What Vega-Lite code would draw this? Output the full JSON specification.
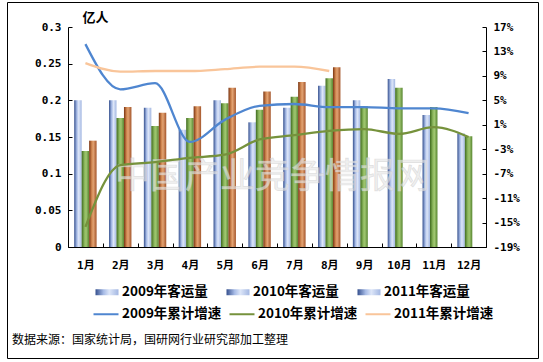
{
  "$schema": "https://vega.github.io/schema/vega-lite/v6.json",
  "width": 531,
  "height": 356,
  "autosize": {"type": "none"},
  "padding": {"left": 7, "top": 2, "right": 5, "bottom": 4},
  "background": "white",
  "config": {
    "view": {"stroke": "#000000", "strokeWidth": 1},
    "font": "Noto Sans CJK SC"
  },
  "title": {
    "text": "数据来源：国家统计局，国研网行业研究部加工整理",
    "orient": "bottom",
    "anchor": "start",
    "frame": "group",
    "offset": -23,
    "dx": 5,
    "fontSize": 12,
    "fontWeight": "normal",
    "font": "Noto Sans CJK SC",
    "color": "#000000"
  },
  "datasets": {
    "bars": [
      {"month": "1月", "year": "2009", "name": "2009年客运量", "volume": 0.200},
      {"month": "1月", "year": "2010", "name": "2010年客运量", "volume": 0.131},
      {"month": "1月", "year": "2011", "name": "2011年客运量", "volume": 0.145},
      {"month": "2月", "year": "2009", "name": "2009年客运量", "volume": 0.200},
      {"month": "2月", "year": "2010", "name": "2010年客运量", "volume": 0.176},
      {"month": "2月", "year": "2011", "name": "2011年客运量", "volume": 0.191},
      {"month": "3月", "year": "2009", "name": "2009年客运量", "volume": 0.190},
      {"month": "3月", "year": "2010", "name": "2010年客运量", "volume": 0.165},
      {"month": "3月", "year": "2011", "name": "2011年客运量", "volume": 0.183},
      {"month": "4月", "year": "2009", "name": "2009年客运量", "volume": 0.160},
      {"month": "4月", "year": "2010", "name": "2010年客运量", "volume": 0.176},
      {"month": "4月", "year": "2011", "name": "2011年客运量", "volume": 0.192},
      {"month": "5月", "year": "2009", "name": "2009年客运量", "volume": 0.200},
      {"month": "5月", "year": "2010", "name": "2010年客运量", "volume": 0.196},
      {"month": "5月", "year": "2011", "name": "2011年客运量", "volume": 0.217},
      {"month": "6月", "year": "2009", "name": "2009年客运量", "volume": 0.170},
      {"month": "6月", "year": "2010", "name": "2010年客运量", "volume": 0.187},
      {"month": "6月", "year": "2011", "name": "2011年客运量", "volume": 0.212},
      {"month": "7月", "year": "2009", "name": "2009年客运量", "volume": 0.190},
      {"month": "7月", "year": "2010", "name": "2010年客运量", "volume": 0.205},
      {"month": "7月", "year": "2011", "name": "2011年客运量", "volume": 0.225},
      {"month": "8月", "year": "2009", "name": "2009年客运量", "volume": 0.220},
      {"month": "8月", "year": "2010", "name": "2010年客运量", "volume": 0.230},
      {"month": "8月", "year": "2011", "name": "2011年客运量", "volume": 0.245},
      {"month": "9月", "year": "2009", "name": "2009年客运量", "volume": 0.200},
      {"month": "9月", "year": "2010", "name": "2010年客运量", "volume": 0.192},
      {"month": "10月", "year": "2009", "name": "2009年客运量", "volume": 0.229},
      {"month": "10月", "year": "2010", "name": "2010年客运量", "volume": 0.217},
      {"month": "11月", "year": "2009", "name": "2009年客运量", "volume": 0.180},
      {"month": "11月", "year": "2010", "name": "2010年客运量", "volume": 0.191},
      {"month": "12月", "year": "2009", "name": "2009年客运量", "volume": 0.155},
      {"month": "12月", "year": "2010", "name": "2010年客运量", "volume": 0.151}
    ],
    "lines": [
      {"month": "1月", "series": "2009年累计增速", "rate": 14.2},
      {"month": "2月", "series": "2009年累计增速", "rate": 6.8},
      {"month": "3月", "series": "2009年累计增速", "rate": 7.8},
      {"month": "4月", "series": "2009年累计增速", "rate": -1.8},
      {"month": "5月", "series": "2009年累计增速", "rate": 1.8},
      {"month": "6月", "series": "2009年累计增速", "rate": 4.1},
      {"month": "7月", "series": "2009年累计增速", "rate": 4.4},
      {"month": "8月", "series": "2009年累计增速", "rate": 3.9},
      {"month": "9月", "series": "2009年累计增速", "rate": 3.9},
      {"month": "10月", "series": "2009年累计增速", "rate": 3.7},
      {"month": "11月", "series": "2009年累计增速", "rate": 3.7},
      {"month": "12月", "series": "2009年累计增速", "rate": 2.9},
      {"month": "1月", "series": "2010年累计增速", "rate": -15.7},
      {"month": "2月", "series": "2010年累计增速", "rate": -5.6},
      {"month": "3月", "series": "2010年累计增速", "rate": -5.1},
      {"month": "4月", "series": "2010年累计增速", "rate": -4.4},
      {"month": "5月", "series": "2010年累计增速", "rate": -3.9},
      {"month": "6月", "series": "2010年累计增速", "rate": -1.4},
      {"month": "7月", "series": "2010年累计增速", "rate": -0.7},
      {"month": "8月", "series": "2010年累计增速", "rate": 0.0},
      {"month": "9月", "series": "2010年累计增速", "rate": 0.3},
      {"month": "10月", "series": "2010年累计增速", "rate": -0.5},
      {"month": "11月", "series": "2010年累计增速", "rate": 0.6},
      {"month": "12月", "series": "2010年累计增速", "rate": -1.0},
      {"month": "1月", "series": "2011年累计增速", "rate": 11.1},
      {"month": "2月", "series": "2011年累计增速", "rate": 9.7},
      {"month": "3月", "series": "2011年累计增速", "rate": 9.8},
      {"month": "4月", "series": "2011年累计增速", "rate": 9.8},
      {"month": "5月", "series": "2011年累计增速", "rate": 10.1},
      {"month": "6月", "series": "2011年累计增速", "rate": 10.5},
      {"month": "7月", "series": "2011年累计增速", "rate": 10.5},
      {"month": "8月", "series": "2011年累计增速", "rate": 9.8}
    ],
    "watermark": [
      {"label": "中国产业竞争情报网", "level": 0.0955}
    ]
  },
  "layer": [
    {
      "data": {"name": "bars"},
      "transform": [{"filter": "datum.year === '2009'"}],
      "mark": {
        "type": "bar",
        "fill": {
          "gradient": "linear", "x1": 0, "x2": 1, "y1": 0, "y2": 0,
          "stops": [
            {"offset": 0, "color": "#35508E"},
            {"offset": 0.35, "color": "#A7BBE6"},
            {"offset": 0.6, "color": "#DDE6F8"},
            {"offset": 1, "color": "#A3B7E2"}
          ]
        }
      },
      "encoding": {
        "x": {
          "field": "month", "type": "nominal",
          "sort": ["1月","2月","3月","4月","5月","6月","7月","8月","9月","10月","11月","12月"],
          "scale": {"range": [61, 479], "paddingInner": 0, "paddingOuter": 0},
          "axis": {
            "orient": "bottom", "offset": -111, "title": null, "labelAngle": 0,
            "tickBand": "extent", "tickSize": -4, "tickColor": "#000000",
            "domainColor": "#000000", "labelPadding": 16,
            "labelFont": "DejaVu Sans Mono, Noto Sans CJK SC", "labelFontSize": 11,
            "labelFontWeight": "bold", "labelColor": "#000000"
          }
        },
        "xOffset": {
          "field": "year", "type": "nominal",
          "scale": {"domain": ["2009", "2010", "2011"], "range": [6.2, 28.6], "paddingInner": 0, "paddingOuter": 0}
        },
        "y": {
          "field": "volume", "type": "quantitative",
          "scale": {"domain": [0, 0.3], "range": [245, 25], "zero": true, "nice": false},
          "axis": {
            "orient": "left", "offset": -61, "grid": false,
            "values": [0, 0.05, 0.1, 0.15, 0.2, 0.25, 0.3], "format": "~g",
            "tickSize": -4, "tickColor": "#000000", "domainColor": "#000000",
            "labelPadding": 11, "labelFont": "DejaVu Sans Mono", "labelFontSize": 11,
            "labelFontWeight": "bold", "labelColor": "#000000",
            "title": "亿人", "titleAngle": 0, "titleX": 27, "titleY": 15,
            "titleAlign": "center", "titleBaseline": "middle",
            "titleFont": "Noto Sans CJK SC", "titleFontSize": 13, "titleFontWeight": "bold",
            "titleColor": "#000000"
          }
        },
        "strokeDash": {
          "field": "name", "type": "nominal",
          "scale": {"domain": ["2009年客运量", "2010年客运量", "2011年客运量"], "range": [[1, 0], [1, 0], [1, 0]]},
          "legend": {
            "orient": "none", "legendX": 90, "legendY": 280,
            "direction": "horizontal", "title": null, "padding": 0,
            "symbolType": "M-1.15,-0.3H1.15V0.3H-1.15Z",
            "symbolSize": 400, "labelOffset": 5, "columnPadding": 18,
            "symbolStrokeWidth": 0, "symbolStrokeColor": "transparent",
            "labelFont": "Noto Sans CJK SC", "labelFontSize": 13.5, "labelFontWeight": "bold",
            "labelColor": "#000000", "labelLimit": 200,
            "encode": {
              "symbols": {
                "fill": {
                  "condition": [
                    {"test": "datum.value === '2009年客运量'", "value": {"gradient": "linear", "x1": 0, "x2": 1, "y1": 0, "y2": 0, "stops": [{"offset": 0, "color": "#3B5795"}, {"offset": 0.6, "color": "#C5D4F2"}, {"offset": 1, "color": "#DDE6F8"}]}},
                    {"test": "datum.value === '2010年客运量'", "value": {"gradient": "linear", "x1": 0, "x2": 1, "y1": 0, "y2": 0, "stops": [{"offset": 0, "color": "#3E6A1E"}, {"offset": 0.6, "color": "#8FBA5F"}, {"offset": 1, "color": "#56852E"}]}}
                  ],
                  "value": {"gradient": "linear", "x1": 0, "x2": 1, "y1": 0, "y2": 0, "stops": [{"offset": 0, "color": "#A04A20"}, {"offset": 0.5, "color": "#D08650"}, {"offset": 1, "color": "#7A3412"}]}
                },
                "opacity": {"value": 1}
              }
            }
          }
        }
      }
    },
    {
      "data": {"name": "bars"},
      "transform": [{"filter": "datum.year === '2010'"}],
      "mark": {
        "type": "bar",
        "fill": {
          "gradient": "linear", "x1": 0, "x2": 1, "y1": 0, "y2": 0,
          "stops": [
            {"offset": 0, "color": "#3E6A1E"},
            {"offset": 0.4, "color": "#8FBA5F"},
            {"offset": 0.6, "color": "#9FC571"},
            {"offset": 1, "color": "#56852E"}
          ]
        }
      },
      "encoding": {
        "x": {"field": "month", "type": "nominal", "sort": ["1月","2月","3月","4月","5月","6月","7月","8月","9月","10月","11月","12月"]},
        "xOffset": {"field": "year", "type": "nominal"},
        "y": {
          "field": "volume", "type": "quantitative",
          "scale": {"domain": [0, 0.3], "range": [245, 25], "zero": true, "nice": false},
          "axis": null
        }
      }
    },
    {
      "data": {"name": "bars"},
      "transform": [{"filter": "datum.year === '2011'"}],
      "mark": {
        "type": "bar",
        "fill": {
          "gradient": "linear", "x1": 0, "x2": 1, "y1": 0, "y2": 0,
          "stops": [
            {"offset": 0, "color": "#7A3412"},
            {"offset": 0.35, "color": "#D08650"},
            {"offset": 0.55, "color": "#E2A373"},
            {"offset": 1, "color": "#A4552A"}
          ]
        }
      },
      "encoding": {
        "x": {"field": "month", "type": "nominal", "sort": ["1月","2月","3月","4月","5月","6月","7月","8月","9月","10月","11月","12月"]},
        "xOffset": {"field": "year", "type": "nominal"},
        "y": {
          "field": "volume", "type": "quantitative",
          "scale": {"domain": [0, 0.3], "range": [245, 25], "zero": true, "nice": false},
          "axis": null
        }
      }
    },
    {
      "data": {"name": "watermark"},
      "mark": {
        "type": "text", "font": "Noto Sans CJK SC", "fontSize": 35,
        "fill": "#e6e6e6", "fillOpacity": 0.65, "stroke": "#c8c8c8",
        "strokeOpacity": 0.5, "strokeWidth": 0.7,
        "align": "center", "baseline": "middle"
      },
      "encoding": {
        "text": {"field": "label"},
        "y": {
          "field": "level", "type": "quantitative",
          "scale": {"domain": [0, 0.3], "range": [245, 25], "zero": true, "nice": false},
          "axis": null
        }
      }
    },
    {
      "data": {"name": "lines"},
      "mark": {"type": "line", "interpolate": "monotone", "strokeWidth": 2.3},
      "encoding": {
        "x": {"field": "month", "type": "nominal", "sort": ["1月","2月","3月","4月","5月","6月","7月","8月","9月","10月","11月","12月"]},
        "y": {
          "field": "rate", "type": "quantitative",
          "scale": {"domain": [-19, 17], "range": [245, 25], "zero": false, "nice": false},
          "axis": {
            "orient": "right", "offset": -52, "grid": false, "title": null,
            "values": [-19, -15, -11, -7, -3, 1, 5, 9, 13, 17],
            "labelExpr": "datum.value + '%'",
            "tickSize": -4, "tickColor": "#000000", "domainColor": "#000000",
            "labelPadding": 11, "labelFont": "DejaVu Sans Mono", "labelFontSize": 11,
            "labelFontWeight": "bold", "labelColor": "#000000"
          }
        },
        "color": {
          "field": "series", "type": "nominal",
          "scale": {
            "domain": ["2009年累计增速", "2010年累计增速", "2011年累计增速"],
            "range": ["#4F86D0", "#76923C", "#F9C59A"]
          },
          "legend": {
            "orient": "none", "legendX": 88, "legendY": 301,
            "direction": "horizontal", "title": null, "padding": 0,
            "symbolType": "M-1.25,0H1.25",
            "symbolSize": 400, "labelOffset": 5, "columnPadding": 3,
            "symbolStrokeWidth": 2,
            "labelFont": "Noto Sans CJK SC", "labelFontSize": 13.5, "labelFontWeight": "bold",
            "labelColor": "#000000", "labelLimit": 200
          }
        }
      }
    }
  ],
  "resolve": {"scale": {"y": "independent"}}
}
